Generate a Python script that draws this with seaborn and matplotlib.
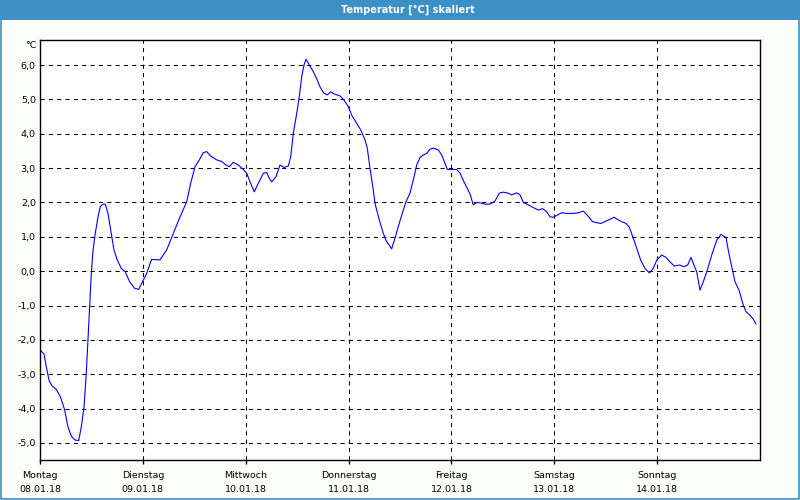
import matplotlib
matplotlib.use("Agg")
import matplotlib.pyplot as plt
import seaborn as sns
import pandas as pd
from matplotlib.patches import Rectangle

# ---- data (hours since Monday 08.01.18 00:00, temperature in °C) ----
hours = [0.16, 0.93, 1.47, 2.10, 2.80, 3.80, 4.74, 5.76, 6.53, 7.30, 8.10, 9.03, 9.64, 10.27,
         10.80, 11.20, 11.60, 11.97, 12.37, 12.90, 13.53, 14.07, 14.70, 15.24, 15.87, 16.64,
         17.27, 18.04, 18.97, 19.90, 20.93, 22.10, 23.03, 23.33, 24.85, 26.02, 28.0, 29.56,
         31.10, 32.67, 34.23, 35.16, 36.17, 37.17, 38.10, 38.90, 39.83, 41.23, 42.40, 43.40,
         44.17, 45.10, 46.27, 47.44, 48.23, 49.0, 50.0, 50.94, 52.10, 52.90, 53.50, 54.06,
         55.07, 56.0, 56.93, 57.94, 58.50, 59.10, 59.90, 60.50, 61.06, 61.60, 62.07, 62.84,
         63.77, 64.70, 65.50, 66.27, 67.04, 67.83, 68.60, 70.0, 70.93, 71.94, 72.73, 73.90,
         74.83, 75.83, 76.37, 77.0, 77.77, 78.17, 79.17, 80.10, 80.90, 82.06, 82.83, 83.60,
         84.40, 85.40, 86.33, 87.10, 87.90, 88.67, 89.44, 90.23, 91.0, 91.77, 92.94, 93.73,
         94.50, 95.04, 97.23, 98.0, 98.93, 99.70, 100.33, 101.10, 101.90, 102.67, 103.83,
         105.0, 106.17, 107.17, 108.10, 109.27, 110.06, 111.23, 112.0, 112.77, 113.94, 115.10,
         116.27, 117.30, 118.23, 119.0, 119.77, 120.70, 121.73, 122.90, 124.44, 125.60, 126.77,
         127.70, 128.96, 129.90, 130.90, 132.07, 133.0, 133.93, 134.70, 135.73, 136.73, 137.50,
         138.44, 139.23, 140.16, 141.17, 142.17, 143.10, 143.90, 145.06, 146.07, 147.0, 148.0,
         149.17, 150.27, 151.13, 151.90, 152.60, 153.23, 154.0, 154.77, 155.70, 156.73, 157.90,
         158.90, 160.07, 160.60, 161.40, 162.17, 163.17, 163.97, 164.73, 165.67, 166.44, 167.07]
temps = [-2.31, -2.41, -2.78, -3.17, -3.34, -3.44, -3.65, -4.04, -4.53, -4.80, -4.91, -4.93, -4.53, -3.95,
         -2.97, -2.0, -1.03, -0.07, 0.61, 1.10, 1.58, 1.88, 1.95, 1.95, 1.68, 1.10,
         0.61, 0.32, 0.08, -0.02, -0.31, -0.50, -0.53, -0.45, -0.08, 0.34, 0.33, 0.62,
         1.10, 1.58, 2.02, 2.56, 3.04, 3.24, 3.45, 3.48, 3.35, 3.24, 3.19, 3.09,
         3.04, 3.17, 3.09, 2.96, 2.85, 2.60, 2.31, 2.56, 2.85, 2.87, 2.70, 2.60,
         2.75, 3.09, 3.02, 3.06, 3.33, 4.01, 4.59, 5.08, 5.66, 6.0, 6.17, 6.0,
         5.81, 5.56, 5.32, 5.18, 5.13, 5.22, 5.16, 5.10, 4.98, 4.79, 4.54, 4.30,
         4.11, 3.82, 3.58, 2.99, 2.36, 1.97, 1.49, 1.10, 0.86, 0.65, 0.96, 1.30,
         1.63, 2.02, 2.27, 2.65, 3.09, 3.31, 3.38, 3.43, 3.55, 3.58, 3.53, 3.38,
         3.14, 2.96, 2.96, 2.85, 2.60, 2.41, 2.25, 1.93, 2.0, 1.99, 1.95,
         1.95, 2.04, 2.27, 2.30, 2.27, 2.22, 2.28, 2.22, 2.0, 1.93, 1.85,
         1.78, 1.82, 1.73, 1.58, 1.57, 1.63, 1.70, 1.68, 1.68, 1.70, 1.75,
         1.63, 1.44, 1.41, 1.39, 1.46, 1.51, 1.57, 1.51, 1.44, 1.39, 1.28,
         0.96, 0.67, 0.32, 0.08, -0.05, 0.08, 0.32, 0.47, 0.40, 0.27, 0.15,
         0.18, 0.13, 0.18, 0.40, 0.18, -0.02, -0.55, -0.31, 0.03, 0.47, 0.90,
         1.07, 0.98, 0.61, 0.13, -0.31, -0.57, -0.94, -1.18, -1.28, -1.40, -1.54]

day_ticks = [0, 24, 48, 72, 96, 120, 144]
day_names = ["Montag", "Dienstag", "Mittwoch", "Donnerstag", "Freitag", "Samstag", "Sonntag"]
day_dates = ["08.01.18", "09.01.18", "10.01.18", "11.01.18", "12.01.18", "13.01.18", "14.01.18"]
y_ticks = [-5, -4, -3, -2, -1, 0, 1, 2, 3, 4, 5, 6]
y_labels = ["-5,0", "-4,0", "-3,0", "-2,0", "-1,0", "0,0", "1,0", "2,0", "3,0", "4,0", "5,0", "6,0"]
title = "Temperatur [°C] skaliert"
unit = "°C"

df = pd.DataFrame({"h": hours, "t": temps})

sns.set_style("white")
plt.rcParams["font.family"] = ["DejaVu Sans"]
plt.rcParams["text.color"] = "black"
plt.rcParams["xtick.color"] = "black"
plt.rcParams["ytick.color"] = "black"
plt.rcParams["xtick.labelcolor"] = "black"
plt.rcParams["ytick.labelcolor"] = "black"

fig = plt.figure(figsize=(8, 5), dpi=100, facecolor="#fcfefc")
ax = fig.add_axes([40 / 800, 1 - 460 / 500, 720 / 800, 420 / 500])
ax.set_facecolor("white")

sns.lineplot(data=df, x="h", y="t", ax=ax, color="#0000ff", linewidth=0.8, estimator=None, sort=False)

ax.set_xlim(0, 168)
ax.set_ylim(-5.495, 6.728)

# grid
for yv in y_ticks:
    ax.axhline(yv, color="black", linewidth=0.75, linestyle=(0, (4, 4)), zorder=0.5)
for xv in day_ticks[1:]:
    ax.axvline(xv, color="black", linewidth=0.75, linestyle=(0, (4, 4)), zorder=0.5)

for s in ax.spines.values():
    s.set_visible(True)
    s.set_color("black")
    s.set_linewidth(1.0)

ax.set_yticks(y_ticks)
ax.set_yticklabels(y_labels, fontsize=6.8, color="black")
ax.tick_params(axis="y", length=0, pad=3, left=True)
ax.set_xticks(day_ticks)
ax.set_xticklabels([f"{n}\n{d}" for n, d in zip(day_names, day_dates)], fontsize=6.8,
                   linespacing=1.65, color="black")
ax.tick_params(axis="x", bottom=True, length=3, width=1, pad=5, direction="out", color="black")
ax.set_xlabel("")
ax.set_ylabel("")

fig.text(31 / 800, 1 - 45 / 500, unit, fontsize=6.8, ha="center", va="center", color="black")

# title bar and window border
fig.patches.append(Rectangle((0, 1 - 20 / 500), 1, 20 / 500, transform=fig.transFigure,
                             facecolor="#3d90c6", edgecolor="none", zorder=0))
fig.patches.append(Rectangle((0.5 / 800, 1.5 / 500), 798 / 800, 497 / 500, transform=fig.transFigure,
                             facecolor="none", edgecolor="#3d90c6", linewidth=1.2, zorder=1))
fig.text(408 / 800, 1 - 10 / 500, title, color="white", fontsize=7, fontweight="bold",
         ha="center", va="center")

fig.savefig("out.png", dpi=100, facecolor=fig.get_facecolor())
